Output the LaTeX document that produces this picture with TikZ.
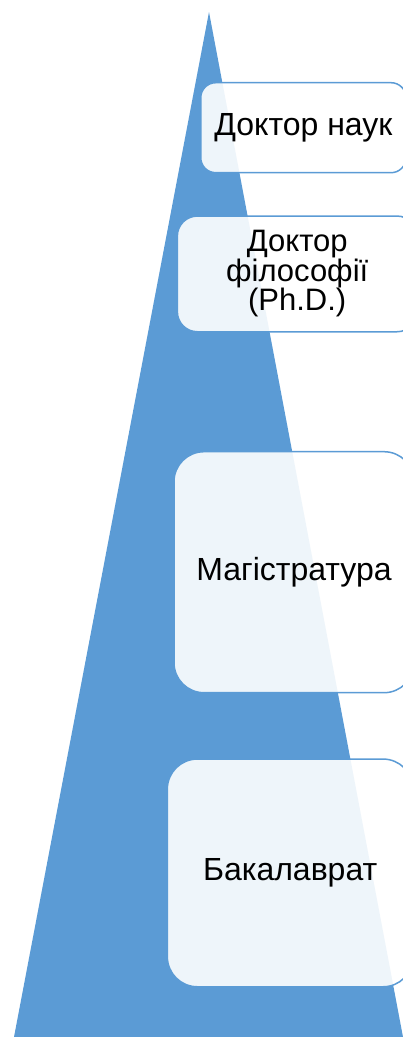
\documentclass[tikz,border=0pt]{standalone}
\usepackage{fontspec}
\setmainfont{Liberation Sans}
\definecolor{triblue}{HTML}{5B9BD5}
\begin{document}
\begin{tikzpicture}[x=1pt,y=-1pt,
  level/.style={draw=triblue, line width=1.5pt, fill=white, fill opacity=0.9, text opacity=1,
     text=black, align=center, inner sep=0pt, font=\fontsize{32}{30}\selectfont}]
\useasboundingbox (0,0) rectangle (403,1037);
\clip (0,0) rectangle (403,1037);
\fill[triblue] (14,1037) -- (209,12) -- (403,1037) -- cycle;
\node[level, rounded corners=15pt, minimum width=205.3pt, minimum height=90pt] (b1) at (303.4,127.7) {Доктор наук};
\node[level, rounded corners=20pt, minimum width=239.7pt, minimum height=115.7pt, font=\fontsize{31}{29.5}\selectfont] (b2) at (297.2,273.9) {Доктор\\філософії\\(Ph.D.)};
\node[level, rounded corners=30pt, minimum width=240pt, minimum height=241pt] (b3) at (294,572.2) {Магістратура};
\node[level, rounded corners=30pt, minimum width=245.7pt, minimum height=227.7pt] (b4) at (290.2,872.9) {Бакалаврат};
\end{tikzpicture}
\end{document}
